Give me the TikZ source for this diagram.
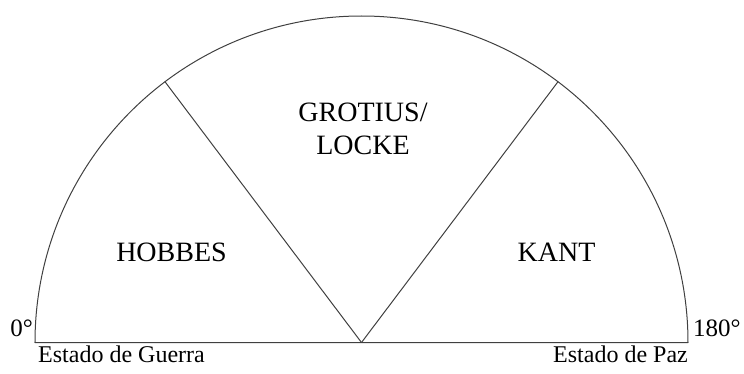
\documentclass[tikz,border=0pt]{standalone}
\usepackage{fontspec}
\setmainfont{Liberation Serif}
\begin{document}
\begin{tikzpicture}[x=1pt, y=1pt, line join=round, line cap=round,
    rim/.style={draw=black!75, line width=1pt},
    school/.style={inner sep=0pt, font=\fontsize{28}{33}\selectfont, align=center},
    endlabel/.style={inner sep=0pt, font=\fontsize{25}{30}\selectfont},
    statelabel/.style={inner sep=0pt, font=\fontsize{24}{29}\selectfont}]
  \useasboundingbox (-361.5, -30.5) rectangle (382.5, 342.5);

  % Semicircle and its diameter
  \coordinate (O) at (0, 0);
  \coordinate (L) at (-326.5, 0);
  \coordinate (R) at (326.5, 0);
  \draw[rim] (L) -- (R) arc[start angle=0, end angle=180, radius=326.5];

  % Dividing radii
  \coordinate (A) at (127:326.5);
  \coordinate (B) at (53:326.5);
  \draw[rim] (O) -- (A);
  \draw[rim] (O) -- (B);

  % Sector labels
  \node[school] (hobbes) at (-190, 90) {HOBBES};
  \node[school] (grotius) at (1.5, 213.5) {GROTIUS/\\LOCKE};
  \node[school] (kant) at (195, 90) {KANT};

  % End labels
  \node[endlabel, anchor=base east] (zero) at (-328.5, 6.5) {0°};
  \node[endlabel, anchor=base west] (oneeighty) at (331.5, 6.5) {180°};
  \node[statelabel, anchor=base west] (guerra) at (-323.5, -19.5) {Estado de Guerra};
  \node[statelabel, anchor=base east] (paz) at (326.5, -19.5) {Estado de Paz};
\end{tikzpicture}
\end{document}
